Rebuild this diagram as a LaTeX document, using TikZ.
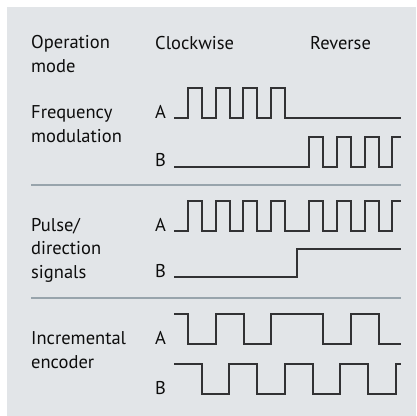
\documentclass[tikz,border=0pt]{standalone}
\usepackage{fontspec}
\setmainfont{PT Sans}
\usepackage{xcolor}
\usepackage{tikz}

\definecolor{panel}{RGB}{226,229,232}
\definecolor{rulegray}{RGB}{152,164,172}
\definecolor{siggray}{RGB}{50,50,52}

\begin{document}
\begin{tikzpicture}[x=1pt, y=-1pt,
  lbl/.style={anchor=base west, inner sep=0pt, align=left, text=black!95,
              font=\fontsize{18.5}{23.3}\selectfont},
  ch/.style={lbl},
  sig/.style={draw=siggray, line width=1.3pt, line join=miter},
  sep/.style={draw=rulegray, line width=2pt}]

  \useasboundingbox (0,0) rectangle (416,416);
  \fill[panel] (7,7) rectangle (416,416);

  % column headings (multi-line labels sit on their last line)
  \node[lbl] (op)  at (31,72)  {Operation\\mode};
  \node[lbl] (cw)  at (155,49) {Clockwise};
  \node[lbl] (rev) at (310,49) {Reverse};

  % frequency modulation
  \node[lbl] (fm)  at (31,142)  {Frequency\\modulation};
  \node[ch]  (fmA) at (155,118) {A};
  \node[ch]  (fmB) at (155,166) {B};
  \draw[sig] (174,118) -| (188,88) -| (202,118) -| (216,88) -| (230,118)
             -| (243,88) -| (257,118) -| (271,88) -| (285,118) -- (401,118);
  \draw[sig] (174,167) -| (309,137) -| (323,167) -| (337,137) -| (351,167)
             -| (365,137) -| (379,167) -| (392,137) -- (401,137);

  \coordinate (s1l) at (31,185);
  \coordinate (s1r) at (401,185);
  \draw[sep] (s1l) -- (s1r);

  % pulse / direction
  \node[lbl] (pd)  at (31,278)  {Pulse/\\direction\\signals};
  \node[ch]  (pdA) at (155,231) {A};
  \node[ch]  (pdB) at (155,277) {B};
  \draw[sig] (174,231) -| (188,201) -| (202,231) -| (216,201) -| (230,231)
             -| (243,201) -| (257,231) -| (271,201) -| (285,231)
             -| (309,201) -| (323,231) -| (337,201) -| (351,231)
             -| (365,201) -| (379,231) -| (392,201) -- (401,201);
  \draw[sig] (174,277) -| (297,249) -- (401,249);

  \coordinate (s2l) at (31,298);
  \coordinate (s2r) at (401,298);
  \draw[sep] (s2l) -- (s2r);

  % incremental encoder
  \node[lbl] (ie)  at (31,368)  {Incremental\\encoder};
  \node[ch]  (ieA) at (155,344) {A};
  \node[ch]  (ieB) at (155,394) {B};
  \draw[sig] (174,314) -| (188,344) -| (216,314) -| (244,344) -| (271,314)
             -| (323,344) -| (351,314) -| (379,344) -- (401,344);
  \draw[sig] (174,364) -| (202,394) -| (229,364) -| (257,394) -| (285,364)
             -| (313,394) -| (340,364) -| (368,394) -| (396,364) -- (401,364);
\end{tikzpicture}
\end{document}
